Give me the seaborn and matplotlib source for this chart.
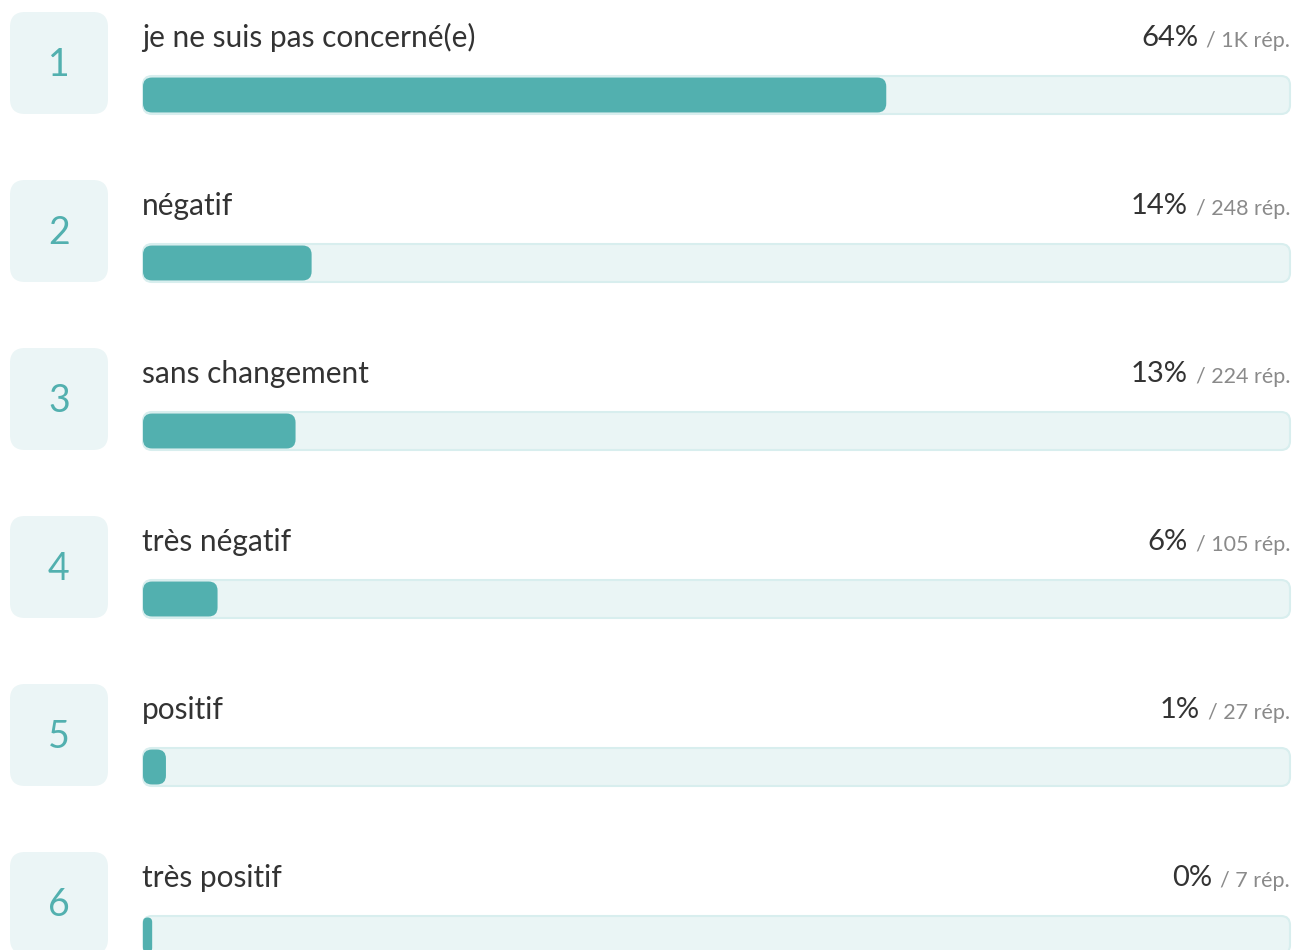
"""
Survey results - ranked horizontal progress bars.
"""
import numpy as np
import pandas as pd
import matplotlib
matplotlib.use('Agg')
import matplotlib.pyplot as plt
from matplotlib.patches import FancyBboxPatch
import seaborn as sns

# Data
ranks = ['1', '2', '3', '4', '5', '6']
answers = ['je ne suis pas concerné(e)', 'négatif', 'sans changement',
           'très négatif', 'positif', 'très positif']
share = [64.8, 14.7, 13.3, 6.5, 2.0, 0.8]          # bar length (%)
pct_labels = ['64%', '14%', '13%', '6%', '1%', '0%']
resp_labels = ['1K', '248', '224', '105', '27', '7']

TEAL = '#52B0AF'
TRACK = '#EAF5F5'
TRACK_EDGE = '#D8EEEE'
BOX = '#EBF5F6'
TEXT = '#333333'
GREY = '#8A8A8A'

sns.set_theme(style='white')
plt.rcParams['font.family'] = ['Lato', 'DejaVu Sans']

W, H = 1292, 950
fig = plt.figure(figsize=(W / 100, H / 100), dpi=100)
ax = fig.add_axes([0, 0, 1, 1])

df = pd.DataFrame({'rank': ranks, 'answer': answers, 'share': share,
                   'track': [100] * len(ranks)})

# background track and filled bar
sns.barplot(data=df, x='track', y='rank', orient='h', color=TRACK,
            width=38 / 168, ax=ax, saturation=1)
n_track = len(ax.patches)
sns.barplot(data=df, x='share', y='rank', orient='h', color=TEAL,
            width=35 / 168, ax=ax, saturation=1)

# pixel -> data mapping: track spans x 143..1290 px, rows are 168 px apart
px_x = 1147 / 100
ax.set_xlim(-143 / px_x, 100 + 2 / px_x)
ax.set_ylim((H - 95) / 168, -95 / 168)
ax.axis('off')
aspect = px_x / 168

# swap the square bars for rounded ones
rects = list(ax.patches)
for i, p in enumerate(rects):
    x0, y0, w, h = p.get_x(), p.get_y(), p.get_width(), p.get_height()
    is_track = i < n_track
    r = min(9 / px_x, w / 2)
    rb = FancyBboxPatch((x0, y0), w, h,
                        boxstyle=f'round,pad=0,rounding_size={r}',
                        mutation_aspect=aspect,
                        facecolor=TRACK if is_track else TEAL,
                        edgecolor=TRACK_EDGE if is_track else 'none',
                        linewidth=1.5 if is_track else 0,
                        zorder=1 if is_track else 2)
    p.remove()
    ax.add_patch(rb)

box_w = 98 / px_x
box_h = 102 / 168
box_x = (10 - 143) / px_x
for i, (rk, ans) in enumerate(zip(ranks, answers)):
    # rank tile
    ax.add_patch(FancyBboxPatch((box_x, i - 83 / 168), box_w, box_h,
                                boxstyle=f'round,pad=0,rounding_size={15 / px_x}',
                                mutation_aspect=aspect, facecolor=BOX,
                                edgecolor='none', clip_on=False))
    ax.text(box_x + box_w / 2, i - 30 / 168, rk, ha='center', va='center',
            fontsize=27, color=TEAL)
    # answer label
    ax.text(-0.1, i - 48 / 168, ans, ha='left', va='baseline',
            fontsize=21.5, color=TEXT)

fig.canvas.draw()
renderer = fig.canvas.get_renderer()
inv = ax.transData.inverted()
for i in range(len(ranks)):
    small = ax.text(100, i - 48 / 168, f'/ {resp_labels[i]} rép.', ha='right',
                    va='baseline', fontsize=15.5, color=GREY)
    bb = small.get_window_extent(renderer)
    x_left = inv.transform((bb.x0 - 8, 0))[0]
    ax.text(x_left, i - 49 / 168, pct_labels[i], ha='right', va='baseline',
            fontsize=21, color=TEXT)

fig.savefig('out.png', dpi=100)
plt.close(fig)
